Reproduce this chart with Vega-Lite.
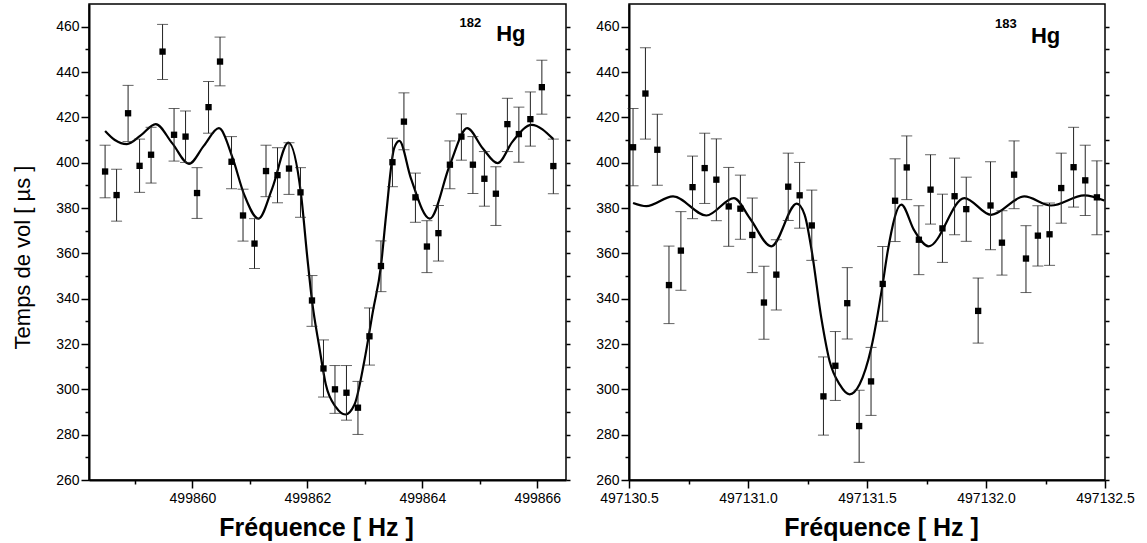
{
  "$schema": "https://vega.github.io/schema/vega-lite/v6.json",
  "padding": {"left": 10, "top": 3, "right": 5, "bottom": 5},
  "background": "white",
  "config": {
    "font": "Liberation Sans",
    "view": {"stroke": "black", "strokeWidth": 1.5},
    "axis": {"grid": false, "domainColor": "black", "domainWidth": 2, "tickColor": "black", "tickWidth": 1.5, "labelColor": "black", "labelFont": "Liberation Sans", "labelFontSize": 14, "labelOverlap": false, "labelFlush": false, "labelBound": false, "titleColor": "black", "titleFont": "Liberation Sans"}
  },
  "datasets": {
    "pts182": [
      {"f": 499858.48, "t": 396.1, "lo": 384.5, "hi": 407.7},
      {"f": 499858.68, "t": 385.7, "lo": 374.2, "hi": 397.1},
      {"f": 499858.88, "t": 421.8, "lo": 409.3, "hi": 434.1},
      {"f": 499859.08, "t": 398.6, "lo": 386.9, "hi": 410.4},
      {"f": 499859.28, "t": 403.5, "lo": 391.0, "hi": 415.6},
      {"f": 499859.48, "t": 449.0, "lo": 436.7, "hi": 461.0},
      {"f": 499859.68, "t": 412.3, "lo": 400.7, "hi": 423.9},
      {"f": 499859.88, "t": 411.5, "lo": 400.1, "hi": 422.8},
      {"f": 499860.08, "t": 386.6, "lo": 375.4, "hi": 397.8},
      {"f": 499860.28, "t": 424.5, "lo": 413.0, "hi": 435.8},
      {"f": 499860.48, "t": 444.6, "lo": 433.9, "hi": 455.4},
      {"f": 499860.68, "t": 400.4, "lo": 388.5, "hi": 411.5},
      {"f": 499860.88, "t": 376.7, "lo": 365.4, "hi": 388.3},
      {"f": 499861.08, "t": 364.3, "lo": 353.3, "hi": 375.3},
      {"f": 499861.28, "t": 396.3, "lo": 385.0, "hi": 407.7},
      {"f": 499861.48, "t": 394.5, "lo": 382.3, "hi": 406.6},
      {"f": 499861.68, "t": 397.4, "lo": 386.0, "hi": 408.8},
      {"f": 499861.88, "t": 386.9, "lo": 375.9, "hi": 397.8},
      {"f": 499862.08, "t": 339.2, "lo": 327.8, "hi": 350.2},
      {"f": 499862.28, "t": 309.2, "lo": 296.6, "hi": 321.8},
      {"f": 499862.48, "t": 300.0, "lo": 289.4, "hi": 310.5},
      {"f": 499862.68, "t": 298.5, "lo": 286.4, "hi": 310.5},
      {"f": 499862.88, "t": 291.9, "lo": 280.1, "hi": 303.5},
      {"f": 499863.08, "t": 323.4, "lo": 310.7, "hi": 335.9},
      {"f": 499863.28, "t": 354.4, "lo": 343.1, "hi": 365.5},
      {"f": 499863.48, "t": 400.2, "lo": 389.4, "hi": 410.8},
      {"f": 499863.68, "t": 418.1, "lo": 405.7, "hi": 430.8},
      {"f": 499863.88, "t": 384.7, "lo": 373.7, "hi": 395.4},
      {"f": 499864.08, "t": 363.0, "lo": 351.5, "hi": 374.4},
      {"f": 499864.28, "t": 368.9, "lo": 356.6, "hi": 381.1},
      {"f": 499864.48, "t": 399.1, "lo": 388.5, "hi": 409.6},
      {"f": 499864.68, "t": 411.5, "lo": 401.1, "hi": 421.5},
      {"f": 499864.88, "t": 399.1, "lo": 386.4, "hi": 411.5},
      {"f": 499865.08, "t": 392.9, "lo": 380.8, "hi": 404.9},
      {"f": 499865.28, "t": 386.3, "lo": 372.3, "hi": 398.2},
      {"f": 499865.48, "t": 417.0, "lo": 404.9, "hi": 428.4},
      {"f": 499865.68, "t": 412.6, "lo": 400.2, "hi": 424.5},
      {"f": 499865.88, "t": 419.2, "lo": 407.3, "hi": 431.2},
      {"f": 499866.08, "t": 433.3, "lo": 421.4, "hi": 445.2},
      {"f": 499866.28, "t": 398.5, "lo": 386.3, "hi": 410.4}
    ],
    "fit182": [
      {"f": 499858.48, "t": 414.0},
      {"f": 499858.65, "t": 410.0},
      {"f": 499858.86, "t": 408.2},
      {"f": 499859.10, "t": 412.0},
      {"f": 499859.36, "t": 417.0},
      {"f": 499859.65, "t": 408.5},
      {"f": 499859.94, "t": 399.5},
      {"f": 499860.20, "t": 407.5},
      {"f": 499860.46, "t": 415.2},
      {"f": 499860.70, "t": 402.0},
      {"f": 499860.90, "t": 385.9},
      {"f": 499861.15, "t": 375.3},
      {"f": 499861.39, "t": 388.8},
      {"f": 499861.67, "t": 408.8},
      {"f": 499861.89, "t": 385.9},
      {"f": 499862.00, "t": 357.9},
      {"f": 499862.08, "t": 339.2},
      {"f": 499862.21, "t": 318.3},
      {"f": 499862.32, "t": 302.2},
      {"f": 499862.50, "t": 292.0},
      {"f": 499862.66, "t": 288.9},
      {"f": 499862.82, "t": 293.3},
      {"f": 499862.99, "t": 312.4},
      {"f": 499863.14, "t": 334.4},
      {"f": 499863.28, "t": 354.4},
      {"f": 499863.37, "t": 377.0},
      {"f": 499863.51, "t": 406.4},
      {"f": 499863.60, "t": 409.6},
      {"f": 499863.80, "t": 393.2},
      {"f": 499864.13, "t": 375.3},
      {"f": 499864.48, "t": 399.1},
      {"f": 499864.78, "t": 415.2},
      {"f": 499865.05, "t": 406.4},
      {"f": 499865.31, "t": 399.8},
      {"f": 499865.57, "t": 409.3},
      {"f": 499865.90, "t": 416.7},
      {"f": 499866.28, "t": 410.4}
    ],
    "pts183": [
      {"f": 497130.517, "t": 406.8, "lo": 389.8, "hi": 423.9},
      {"f": 497130.569, "t": 430.5, "lo": 410.4, "hi": 450.7},
      {"f": 497130.619, "t": 405.7, "lo": 390.0, "hi": 421.4},
      {"f": 497130.668, "t": 346.0, "lo": 329.0, "hi": 363.2},
      {"f": 497130.718, "t": 361.2, "lo": 343.7, "hi": 378.4},
      {"f": 497130.767, "t": 389.2, "lo": 375.3, "hi": 402.9},
      {"f": 497130.818, "t": 397.6, "lo": 382.0, "hi": 413.0},
      {"f": 497130.867, "t": 392.5, "lo": 374.4, "hi": 410.5},
      {"f": 497130.919, "t": 380.7, "lo": 363.1, "hi": 397.9},
      {"f": 497130.968, "t": 379.7, "lo": 366.2, "hi": 394.5},
      {"f": 497131.018, "t": 368.1, "lo": 351.5, "hi": 384.4},
      {"f": 497131.067, "t": 338.3, "lo": 322.1, "hi": 354.3},
      {"f": 497131.119, "t": 350.6, "lo": 335.0, "hi": 366.0},
      {"f": 497131.169, "t": 389.4, "lo": 374.5, "hi": 404.2},
      {"f": 497131.217, "t": 385.6, "lo": 371.1, "hi": 400.1},
      {"f": 497131.268, "t": 372.3, "lo": 356.9, "hi": 387.9},
      {"f": 497131.317, "t": 296.9, "lo": 279.8, "hi": 314.3},
      {"f": 497131.367, "t": 310.4, "lo": 295.1, "hi": 325.5},
      {"f": 497131.417, "t": 338.0, "lo": 322.2, "hi": 353.7},
      {"f": 497131.467, "t": 283.8, "lo": 267.8, "hi": 299.6},
      {"f": 497131.517, "t": 303.5, "lo": 288.5, "hi": 318.5},
      {"f": 497131.566, "t": 346.5, "lo": 330.0, "hi": 363.0},
      {"f": 497131.618, "t": 383.2, "lo": 365.2, "hi": 401.7},
      {"f": 497131.667, "t": 397.9, "lo": 383.7, "hi": 411.8},
      {"f": 497131.718, "t": 366.0, "lo": 350.6, "hi": 381.0},
      {"f": 497131.767, "t": 388.1, "lo": 372.9, "hi": 403.5},
      {"f": 497131.817, "t": 371.0, "lo": 356.0, "hi": 386.1},
      {"f": 497131.868, "t": 385.2, "lo": 368.2, "hi": 402.0},
      {"f": 497131.917, "t": 379.5, "lo": 365.3, "hi": 393.6},
      {"f": 497131.967, "t": 334.6, "lo": 320.4, "hi": 349.1},
      {"f": 497132.019, "t": 381.1, "lo": 361.6, "hi": 400.4},
      {"f": 497132.067, "t": 364.7, "lo": 350.4, "hi": 378.8},
      {"f": 497132.118, "t": 394.7, "lo": 379.7, "hi": 409.6},
      {"f": 497132.168, "t": 357.7, "lo": 342.7, "hi": 372.2},
      {"f": 497132.218, "t": 367.8, "lo": 354.4, "hi": 381.0},
      {"f": 497132.267, "t": 368.4, "lo": 354.7, "hi": 382.2},
      {"f": 497132.316, "t": 388.8, "lo": 373.3, "hi": 404.2},
      {"f": 497132.368, "t": 398.0, "lo": 380.4, "hi": 415.6},
      {"f": 497132.417, "t": 392.2, "lo": 376.7, "hi": 407.7},
      {"f": 497132.466, "t": 384.7, "lo": 368.2, "hi": 400.8}
    ],
    "fit183": [
      {"f": 497130.517, "t": 382.2},
      {"f": 497130.573, "t": 380.8},
      {"f": 497130.685, "t": 385.1},
      {"f": 497130.825, "t": 376.7},
      {"f": 497130.941, "t": 384.4},
      {"f": 497131.007, "t": 375.6},
      {"f": 497131.098, "t": 363.1},
      {"f": 497131.205, "t": 381.9},
      {"f": 497131.238, "t": 377.0},
      {"f": 497131.268, "t": 360.9},
      {"f": 497131.308, "t": 331.5},
      {"f": 497131.343, "t": 312.4},
      {"f": 497131.385, "t": 302.2},
      {"f": 497131.427, "t": 297.8},
      {"f": 497131.469, "t": 302.2},
      {"f": 497131.518, "t": 318.3},
      {"f": 497131.566, "t": 346.5},
      {"f": 497131.587, "t": 360.9},
      {"f": 497131.644, "t": 381.5},
      {"f": 497131.699, "t": 370.0},
      {"f": 497131.759, "t": 363.1},
      {"f": 497131.909, "t": 384.4},
      {"f": 497132.021, "t": 377.0},
      {"f": 497132.161, "t": 385.1},
      {"f": 497132.273, "t": 381.1},
      {"f": 497132.413, "t": 385.6},
      {"f": 497132.497, "t": 383.3}
    ],
    "lab182": [
      {"f": 499864.646, "t": 460.0, "text": "182"},
      {"f": 499865.286, "t": 453.7, "text": "Hg"}
    ],
    "lab183": [
      {"f": 497132.038, "t": 459.3, "text": "183"},
      {"f": 497132.189, "t": 452.6, "text": "Hg"}
    ]
  },
  "spacing": 22,
  "hconcat": [
    {
      "width": 477,
      "height": 476,
      "layer": [
        {
          "data": {"name": "fit182"},
          "mark": {"type": "line", "color": "black", "strokeWidth": 2.2, "interpolate": "monotone"},
          "encoding": {
            "x": {"field": "f", "type": "quantitative", "scale": {"domain": [499858.2, 499866.5], "nice": false, "zero": false},
              "axis": {"orient": "bottom", "values": [499859, 499860, 499861, 499862, 499863, 499864, 499865, 499866],
                "labelExpr": "datum.value % 2 === 0 ? format(datum.value, 'd') : ''",
                "tickSize": {"condition": {"test": "datum.value % 2 === 0", "value": 8}, "value": 4},
                "labelPadding": 3,
                "title": "Fréquence [ Hz ]", "titleFontSize": 25, "titleFontWeight": "bold", "titleAlign": "center", "titleBaseline": "alphabetic", "titleX": 227, "titleY": 55}},
            "y": {"field": "t", "type": "quantitative", "scale": {"domain": [260, 470], "nice": false, "zero": false},
              "axis": {"orient": "left", "values": [260, 270, 280, 290, 300, 310, 320, 330, 340, 350, 360, 370, 380, 390, 400, 410, 420, 430, 440, 450, 460],
                "labelExpr": "datum.value % 20 === 0 ? format(datum.value, 'd') : ''",
                "tickSize": {"condition": {"test": "datum.value % 20 === 0", "value": 8}, "value": 4},
                "labelPadding": 2,
                "title": "Temps de vol [ µs ]", "titleFontSize": 22, "titleFontWeight": "normal", "titleAngle": -90, "titleAlign": "center", "titleBaseline": "bottom", "titleX": -55, "titleY": 253}}
          }
        },
        {
          "data": {"name": "pts182"},
          "mark": {"type": "rule", "color": "#222", "strokeWidth": 1},
          "encoding": {
            "x": {"field": "f", "type": "quantitative"},
            "y": {"field": "lo", "type": "quantitative",
              "axis": {"orient": "right", "values": [260, 270, 280, 290, 300, 310, 320, 330, 340, 350, 360, 370, 380, 390, 400, 410, 420, 430, 440, 450, 460], "labels": false, "domain": false, "tickSize": 4, "title": null}},
            "y2": {"field": "hi"}
          }
        },
        {
          "data": {"name": "pts182"},
          "mark": {"type": "tick", "orient": "horizontal", "size": 11, "thickness": 1, "color": "#222"},
          "encoding": {
            "x": {"field": "f", "type": "quantitative"},
            "y": {"field": "lo", "type": "quantitative", "axis": null}
          }
        },
        {
          "data": {"name": "pts182"},
          "mark": {"type": "tick", "orient": "horizontal", "size": 11, "thickness": 1, "color": "#222"},
          "encoding": {
            "x": {"field": "f", "type": "quantitative"},
            "y": {"field": "hi", "type": "quantitative", "axis": null}
          }
        },
        {
          "data": {"name": "pts182"},
          "mark": {"type": "square", "size": 40, "filled": true, "color": "black", "opacity": 1},
          "encoding": {
            "x": {"field": "f", "type": "quantitative"},
            "y": {"field": "t", "type": "quantitative", "axis": null}
          }
        },
        {
          "data": {"name": "lab182"},
          "transform": [{"filter": "datum.text === '182'"}],
          "mark": {"type": "text", "align": "left", "baseline": "alphabetic", "fontSize": 13, "fontWeight": "bold", "color": "black"},
          "encoding": {
            "x": {"field": "f", "type": "quantitative"},
            "y": {"field": "t", "type": "quantitative", "axis": null},
            "text": {"field": "text"}
          }
        },
        {
          "data": {"name": "lab182"},
          "transform": [{"filter": "datum.text === 'Hg'"}],
          "mark": {"type": "text", "align": "left", "baseline": "alphabetic", "fontSize": 22, "fontWeight": "bold", "color": "black"},
          "encoding": {
            "x": {"field": "f", "type": "quantitative"},
            "y": {"field": "t", "type": "quantitative", "axis": null},
            "text": {"field": "text"}
          }
        }
      ]
    },
    {
      "width": 476,
      "height": 476,
      "layer": [
        {
          "data": {"name": "fit183"},
          "mark": {"type": "line", "color": "black", "strokeWidth": 2.2, "interpolate": "monotone"},
          "encoding": {
            "x": {"field": "f", "type": "quantitative", "scale": {"domain": [497130.5, 497132.5], "nice": false, "zero": false},
              "axis": {"orient": "bottom", "values": [497130.5, 497130.75, 497131, 497131.25, 497131.5, 497131.75, 497132, 497132.25, 497132.5],
                "labelExpr": "abs(datum.value * 2 - round(datum.value * 2)) < 0.000001 ? format(datum.value, '.1f') : ''",
                "tickSize": {"condition": {"test": "abs(datum.value * 2 - round(datum.value * 2)) < 0.000001", "value": 8}, "value": 4},
                "labelPadding": 3,
                "title": "Fréquence [ Hz ]", "titleFontSize": 25, "titleFontWeight": "bold", "titleAlign": "center", "titleBaseline": "alphabetic", "titleX": 252, "titleY": 55}},
            "y": {"field": "t", "type": "quantitative", "scale": {"domain": [260, 470], "nice": false, "zero": false},
              "axis": {"orient": "left", "values": [260, 270, 280, 290, 300, 310, 320, 330, 340, 350, 360, 370, 380, 390, 400, 410, 420, 430, 440, 450, 460],
                "labelExpr": "datum.value % 20 === 0 ? format(datum.value, 'd') : ''",
                "tickSize": {"condition": {"test": "datum.value % 20 === 0", "value": 8}, "value": 4},
                "labelPadding": 2,
                "title": null}}
          }
        },
        {
          "data": {"name": "pts183"},
          "mark": {"type": "rule", "color": "#222", "strokeWidth": 1},
          "encoding": {
            "x": {"field": "f", "type": "quantitative"},
            "y": {"field": "lo", "type": "quantitative",
              "axis": {"orient": "right", "values": [260, 270, 280, 290, 300, 310, 320, 330, 340, 350, 360, 370, 380, 390, 400, 410, 420, 430, 440, 450, 460], "labels": false, "domain": false, "tickSize": 4, "title": null}},
            "y2": {"field": "hi"}
          }
        },
        {
          "data": {"name": "pts183"},
          "mark": {"type": "tick", "orient": "horizontal", "size": 11, "thickness": 1, "color": "#222"},
          "encoding": {
            "x": {"field": "f", "type": "quantitative"},
            "y": {"field": "lo", "type": "quantitative", "axis": null}
          }
        },
        {
          "data": {"name": "pts183"},
          "mark": {"type": "tick", "orient": "horizontal", "size": 11, "thickness": 1, "color": "#222"},
          "encoding": {
            "x": {"field": "f", "type": "quantitative"},
            "y": {"field": "hi", "type": "quantitative", "axis": null}
          }
        },
        {
          "data": {"name": "pts183"},
          "mark": {"type": "square", "size": 40, "filled": true, "color": "black", "opacity": 1},
          "encoding": {
            "x": {"field": "f", "type": "quantitative"},
            "y": {"field": "t", "type": "quantitative", "axis": null}
          }
        },
        {
          "data": {"name": "lab183"},
          "transform": [{"filter": "datum.text === '183'"}],
          "mark": {"type": "text", "align": "left", "baseline": "alphabetic", "fontSize": 13, "fontWeight": "bold", "color": "black"},
          "encoding": {
            "x": {"field": "f", "type": "quantitative"},
            "y": {"field": "t", "type": "quantitative", "axis": null},
            "text": {"field": "text"}
          }
        },
        {
          "data": {"name": "lab183"},
          "transform": [{"filter": "datum.text === 'Hg'"}],
          "mark": {"type": "text", "align": "left", "baseline": "alphabetic", "fontSize": 22, "fontWeight": "bold", "color": "black"},
          "encoding": {
            "x": {"field": "f", "type": "quantitative"},
            "y": {"field": "t", "type": "quantitative", "axis": null},
            "text": {"field": "text"}
          }
        }
      ]
    }
  ]
}
